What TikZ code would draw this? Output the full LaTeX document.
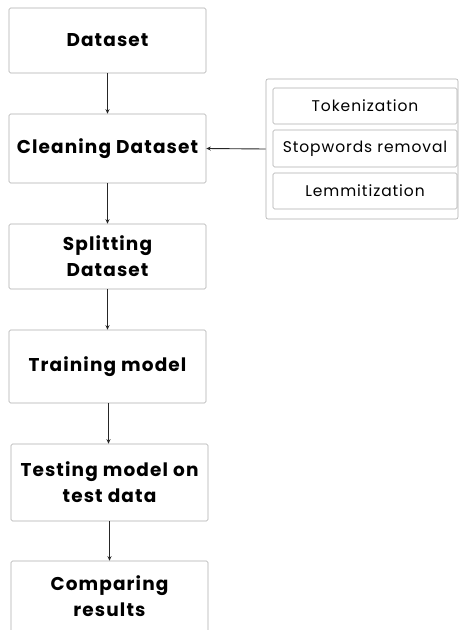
\documentclass[tikz,border=0pt]{standalone}
\usepackage{fontspec}
\setmainfont{Poppins}
\usetikzlibrary{arrows.meta}
\newcommand{\stagefont}{\fontsize{18.5}{26}\selectfont\bfseries\addfontfeatures{LetterSpace=6}}
\newcommand{\subfont}{\fontsize{15.5}{20}\selectfont\addfontfeatures{LetterSpace=6}}
\tikzset{
  stage/.style={draw=black!32, line width=0.6pt, rounded corners=1.5pt, fill=white,
    align=center, font=\stagefont, inner sep=0pt},
  substep/.style={draw=black!32, line width=0.6pt, rounded corners=1.5pt, fill=white,
    align=center, font=\subfont, inner sep=0pt},
  panel/.style={draw=black!32, line width=0.6pt, rounded corners=2pt, fill=white},
  flow/.style={draw=black!85, line width=0.9pt, -{Stealth[length=4.5pt,width=4pt]}}
}
\begin{document}
\begin{tikzpicture}[x=1pt,y=-1pt]
\useasboundingbox (0,0) rectangle (459,630);
\clip (0,0) rectangle (459,630);
\fill[white] (0,0) rectangle (459,630);

% main pipeline
\node[stage, minimum width=197pt, minimum height=65pt] (data) at (107.5,40.5) {Dataset};
\node[stage, minimum width=197pt, minimum height=69pt] (clean) at (107.5,148.5) {Cleaning Dataset};
\node[stage, minimum width=197pt, minimum height=65pt] (split) at (107.5,256.5) {Splitting\\Dataset};
\node[stage, minimum width=197pt, minimum height=73pt] (train) at (107.5,366.5) {Training model};
\node[stage, minimum width=197pt, minimum height=77pt] (test) at (109.5,482.5) {Testing model on\\test data};
\node[stage, minimum width=197pt, minimum height=90pt] (comp) at (109.5,606) {};
\node[font=\stagefont, align=center] (complabel) at (109.5,596) {Comparing\\results};

% preprocessing panel
\node[panel, minimum width=192pt, minimum height=140pt] (prep) at (362,149) {};
\node[substep, minimum width=184pt, minimum height=36pt] (tok) at (365,106) {Tokenization};
\node[substep, minimum width=184pt, minimum height=37pt] (stop) at (365,148.5) {Stopwords removal};
\node[substep, minimum width=184pt, minimum height=36pt] (lem) at (365,191) {Lemmitization};

% connectors
\draw[flow] (data) -- (clean);
\draw[flow] (clean) -- (split);
\draw[flow] (split) -- (train);
\draw[flow] (train.south) ++(1,0) -- ([xshift=1pt]train.south |- test.north);
\draw[flow] (test) -- (comp);
\draw[flow] (prep.west) -- (clean.east);
\end{tikzpicture}
\end{document}
